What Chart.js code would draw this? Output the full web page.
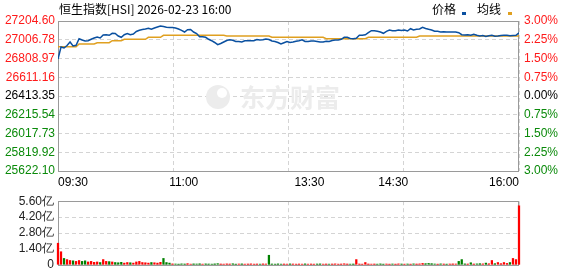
<!DOCTYPE html>
<html>
<head>
<meta charset="utf-8">
<script src="https://cdn.jsdelivr.net/npm/chart.js@4"></script>
<style>
html, body { margin: 0; padding: 0; background: #fff; }
#wrap { position: relative; width: 578px; height: 276px; }
#priceChart { position: absolute; left: 0; top: 0; }
#volChart { position: absolute; left: 0; top: 190px; }
</style>
</head>
<body>
<div id="wrap">
  <canvas id="priceChart" width="578" height="192"></canvas>
  <canvas id="volChart" width="578" height="86"></canvas>
</div>
<script>
// HSI intraday 2026-02-23, one sample every ~3px of the original plot
const prevClose = 26413.35;

const prices = [
    26803.7, 26930.3, 26919.7, 26946.1, 26983.0, 26940.8, 26948.2, 27017.9, 27004.1, 26993.6,
    26996.8, 27011.5, 27025.2, 27035.8, 27025.2, 27056.9, 27060.1, 27053.7, 27074.8, 27072.7,
    27046.3, 27032.6, 27060.1, 27072.7, 27060.1, 27067.4, 27093.8, 27106.5, 27114.9, 27120.2,
    27127.6, 27117.0, 27130.7, 27141.3, 27151.8, 27146.6, 27138.1, 27136.0, 27136.0, 27130.7,
    27120.2, 27106.5, 27088.5, 27112.8, 27114.9, 27088.5, 27072.7, 27039.0, 27039.0, 27032.6,
    27011.5, 26996.8, 26977.8, 26954.6, 26967.2, 26983.0, 26998.9, 27007.3, 27001.0, 26988.3,
    26988.3, 26983.0, 26996.8, 26996.8, 26996.8, 26996.8, 27009.4, 27004.1, 27007.3, 27014.7,
    27009.4, 26993.6, 26988.3, 26977.8, 26961.9, 26975.7, 26988.3, 26977.8, 26983.0, 26990.4,
    26996.8, 27006.3, 26988.3, 26988.3, 26993.6, 26993.6, 26988.3, 26983.0, 26983.0, 26990.4,
    26988.3, 26998.9, 27004.1, 27004.1, 27011.5, 27032.6, 27032.6, 27020.0, 27017.9, 27023.1,
    27053.7, 27053.7, 27059.0, 27081.2, 27102.3, 27102.3, 27095.9, 27088.5, 27074.8, 27095.9,
    27109.6, 27102.3, 27102.3, 27109.6, 27104.4, 27109.6, 27099.1, 27123.4, 27109.6, 27117.0,
    27120.2, 27138.1, 27125.5, 27117.0, 27109.6, 27095.9, 27095.9, 27088.5, 27090.7, 27088.5,
    27088.5, 27088.5, 27088.5, 27081.2, 27060.1, 27056.9, 27060.1, 27053.7, 27064.3, 27053.7,
    27046.3, 27051.6, 27041.1, 27048.5, 27053.7, 27043.2, 27046.3, 27051.6, 27053.7, 27053.7,
    27049.5, 27051.6, 27053.7, 27081.2
];

const avgPrices = [
    26933.5, 26933.5, 26933.5, 26933.5, 26933.5, 26933.5, 26933.5, 26961.9, 26961.9, 26961.9,
    26961.9, 26961.9, 26961.9, 26975.7, 26975.7, 26975.7, 26975.7, 26975.7, 26996.8, 26996.8,
    26996.8, 26996.8, 27011.5, 27011.5, 27011.5, 27011.5, 27011.5, 27011.5, 27011.5, 27011.5,
    27032.6, 27032.6, 27032.6, 27032.6, 27032.6, 27053.7, 27053.7, 27053.7, 27053.7, 27053.7,
    27053.7, 27053.7, 27053.7, 27053.7, 27053.7, 27053.7, 27053.7, 27053.7, 27053.7, 27053.7,
    27053.7, 27053.7, 27053.7, 27053.7, 27053.7, 27053.7, 27046.3, 27046.3, 27046.3, 27046.3,
    27046.3, 27046.3, 27046.3, 27046.3, 27046.3, 27046.3, 27046.3, 27046.3, 27046.3, 27046.3,
    27046.3, 27032.6, 27032.6, 27032.6, 27032.6, 27032.6, 27032.6, 27032.6, 27032.6, 27032.6,
    27032.6, 27032.6, 27032.6, 27032.6, 27032.6, 27032.6, 27032.6, 27032.6, 27032.6, 27017.9,
    27017.9, 27017.9, 27017.9, 27017.9, 27017.9, 27017.9, 27017.9, 27017.9, 27017.9, 27017.9,
    27017.9, 27017.9, 27017.9, 27032.6, 27032.6, 27032.6, 27032.6, 27032.6, 27032.6, 27032.6,
    27032.6, 27032.6, 27032.6, 27032.6, 27032.6, 27032.6, 27032.6, 27032.6, 27032.6, 27032.6,
    27046.3, 27046.3, 27046.3, 27046.3, 27046.3, 27046.3, 27046.3, 27046.3, 27046.3, 27046.3,
    27046.3, 27046.3, 27046.3, 27046.3, 27046.3, 27046.3, 27046.3, 27046.3, 27046.3, 27046.3,
    27046.3, 27046.3, 27046.3, 27046.3, 27046.3, 27046.3, 27046.3, 27046.3, 27046.3, 27046.3,
    27046.3, 27046.3, 27046.3, 27046.3
];

// volume in 亿
const volumes = [
    1.9, 1.15, 0.56, 0.46, 0.38, 0.35, 0.3, 0.38, 0.3, 0.35,
    0.25, 0.3, 0.22, 0.25, 0.2, 0.46, 0.3, 0.28, 0.25, 0.2,
    0.18, 0.22, 0.15, 0.2, 0.18, 0.15, 0.25, 0.3, 0.2, 0.18,
    0.15, 0.2, 0.18, 0.15, 0.22, 0.56, 0.2, 0.15, 0.08, 0.07,
    0.06, 0.08, 0.07, 0.1, 0.06, 0.08, 0.07, 0.09, 0.06, 0.08,
    0.07, 0.06, 0.08, 0.1, 0.07, 0.06, 0.08, 0.07, 0.09, 0.06,
    0.07, 0.08, 0.06, 0.07, 0.08, 0.06, 0.07, 0.06, 0.08, 0.07,
    0.84, 0.07, 0.06, 0.08, 0.06, 0.07, 0.06, 0.08, 0.07, 0.06,
    0.07, 0.06, 0.08, 0.06, 0.07, 0.06, 0.07, 0.08, 0.06, 0.07,
    0.06, 0.07, 0.08, 0.06, 0.07, 0.09, 0.07, 0.06, 0.07, 0.46,
    0.07, 0.06, 0.2, 0.07, 0.06, 0.07, 0.06, 0.08, 0.06, 0.07,
    0.06, 0.07, 0.06, 0.08, 0.07, 0.06, 0.07, 0.06, 0.08, 0.07,
    0.08, 0.12, 0.1, 0.12, 0.1, 0.07, 0.06, 0.08, 0.07, 0.06,
    0.07, 0.08, 0.07, 0.3, 0.46, 0.08, 0.07, 0.18, 0.07, 0.08,
    0.1, 0.08, 0.15, 0.09, 0.38, 0.1, 0.2, 0.1, 0.2, 0.12,
    0.2, 0.56, 0.46, 5.2
];

const priceTicks = [25622.10, 25819.92, 26017.73, 26215.54, 26413.35, 26611.16, 26808.97, 27006.78, 27204.60];
const pctLabels = ['3.00%', '2.25%', '1.50%', '0.75%', '0.00%', '0.75%', '1.50%', '2.25%', '3.00%'];
const volTicks = [0, 1.4, 2.8, 4.2, 5.6];
const timeLabels = ['09:30', '11:00', '13:30', '14:30', '16:00'];
const timeMinutes = [0, 90, 180, 240, 330];
const totalMinutes = 330;

const RED = '#ff1a1a';
const GREEN = '#0a8a0a';
const GRID = '#d4d4d4';
const FRAME = '#9a9a9a';
const lastIdx = prices.length - 1;
const quarterTicks = [0, 1, 2, 3, 4].map(k => ({ value: lastIdx * k / 4 }));

Chart.defaults.font.family = "'Liberation Sans', Arial, sans-serif";
Chart.defaults.font.size = 12;

function tickColor(v) {
    if (Math.abs(v - prevClose) < 0.01) return '#000';
    return v > prevClose ? RED : GREEN;
}

const framePlugin = {
    id: 'frame',
    beforeDatasetsDraw(chart) {
        const a = chart.chartArea;
        const ctx = chart.ctx;
        ctx.save();
        ctx.strokeStyle = FRAME;
        ctx.lineWidth = 1;
        ctx.strokeRect(Math.round(a.left) + 0.5, Math.round(a.top) + 0.5,
            Math.round(a.right - a.left) - 1, Math.round(a.bottom - a.top));
        ctx.restore();
    }
};

const watermark = {
    id: 'watermark',
    beforeDatasetsDraw(chart) {
        const ctx = chart.ctx;
        ctx.save();
        ctx.fillStyle = '#ececec';
        ctx.font = "bold 25px 'Noto Sans CJK SC'";
        ctx.textBaseline = 'middle';
        ctx.textAlign = 'left';
        ctx.fillText('东方财富', 240, 97);
        ctx.beginPath();
        ctx.arc(218, 97, 12, 0, Math.PI * 2);
        ctx.fill();
        ctx.fillStyle = '#fff';
        ctx.beginPath();
        ctx.arc(222, 93, 5, 0, Math.PI * 2);
        ctx.fill();
        ctx.restore();
    }
};

const headerPlugin = {
    id: 'header',
    afterDraw(chart) {
        const ctx = chart.ctx;
        const a = chart.chartArea;
        ctx.save();
        ctx.textBaseline = 'middle';
        ctx.fillStyle = '#000';
        ctx.font = "12px 'Noto Sans CJK SC'";
        ctx.textAlign = 'left';
        ctx.fillText('恒生指数[HSI] 2026-02-23 16:00', 59, 9);
        ctx.fillText('价格', 432, 9);
        ctx.fillText('均线', 477, 9);
        ctx.fillStyle = '#0a50a0';
        ctx.fillRect(462, 12, 4, 3);
        ctx.fillStyle = '#e0a020';
        ctx.fillRect(508, 12, 4, 3);
        // time axis labels
        ctx.fillStyle = '#000';
        ctx.font = "12px 'Liberation Sans', Arial";
        timeLabels.forEach((t, i) => {
            const x = a.left + (a.right - a.left) * timeMinutes[i] / totalMinutes;
            ctx.textAlign = i === 0 ? 'left' : (i === timeLabels.length - 1 ? 'right' : 'center');
            ctx.fillText(t, x, 183);
        });
        ctx.restore();
    }
};

new Chart(document.getElementById('priceChart'), {
    type: 'line',
    data: {
        datasets: [{
            data: prices.map((p, i) => ({ x: i, y: p })),
            borderColor: '#0a50a0',
            borderWidth: 1.5,
            pointRadius: 0,
            tension: 0
        }, {
            data: avgPrices.map((p, i) => ({ x: i, y: p })),
            borderColor: '#e0a020',
            borderWidth: 1.5,
            pointRadius: 0,
            tension: 0
        }]
    },
    options: {
        responsive: false,
        animation: false,
        events: [],
        layout: { padding: { top: 21, bottom: 21, left: 0, right: 0 } },
        plugins: { legend: { display: false }, tooltip: { enabled: false } },
        scales: {
            x: {
                type: 'linear',
                min: 0,
                max: lastIdx,
                afterBuildTicks: s => { s.ticks = quarterTicks.map(t => ({ ...t })); },
                afterFit: s => { s.height = 0; },
                ticks: { display: false },
                grid: { color: GRID, drawTicks: false },
                border: { display: false, dash: [4, 3] }
            },
            y: {
                position: 'left',
                min: priceTicks[0],
                max: priceTicks[priceTicks.length - 1],
                afterBuildTicks: s => { s.ticks = priceTicks.map(v => ({ value: v })); },
                afterFit: s => { s.width = 58; },
                ticks: {
                    padding: 3,
                    autoSkip: false,
                    callback: v => v.toFixed(2),
                    color: c => tickColor(c.tick.value)
                },
                grid: { color: GRID, drawTicks: false },
                border: { display: false, dash: [4, 3] }
            },
            y2: {
                position: 'right',
                min: priceTicks[0],
                max: priceTicks[priceTicks.length - 1],
                afterBuildTicks: s => { s.ticks = priceTicks.map(v => ({ value: v })); },
                afterFit: s => { s.width = 59; },
                ticks: {
                    padding: 5,
                    autoSkip: false,
                    callback: (v, i) => pctLabels[i],
                    color: c => tickColor(c.tick.value)
                },
                grid: { display: false, drawTicks: false },
                border: { display: false }
            }
        }
    },
    plugins: [watermark, framePlugin, headerPlugin]
});

const volColors = volumes.map((v, i) => {
    const prev = i === 0 ? prevClose : prices[i - 1];
    return prices[i] >= prev ? '#ff0000' : '#008000';
});

new Chart(document.getElementById('volChart'), {
    type: 'bar',
    data: {
        datasets: [{
            data: volumes.map((v, i) => ({ x: i, y: v })),
            backgroundColor: volColors,
            barThickness: 1.6,
            borderWidth: 0,
            clip: false
        }]
    },
    options: {
        responsive: false,
        animation: false,
        events: [],
        layout: { padding: { top: 7, bottom: 6, left: 0, right: 59 } },
        plugins: { legend: { display: false }, tooltip: { enabled: false } },
        scales: {
            x: {
                type: 'linear',
                min: 0,
                max: lastIdx,
                offset: false,
                afterBuildTicks: s => { s.ticks = quarterTicks.map(t => ({ ...t })); },
                afterFit: s => { s.height = 0; },
                ticks: { display: false },
                grid: { color: GRID, drawTicks: false, offset: false },
                border: { display: false, dash: [4, 3] }
            },
            y: {
                min: 0,
                max: 5.6,
                afterBuildTicks: s => { s.ticks = volTicks.map(v => ({ value: v })); },
                afterFit: s => { s.width = 58; },
                ticks: {
                    padding: 4,
                    autoSkip: false,
                    color: '#222',
                    callback: v => v === 0 ? '0' : v.toFixed(2) + '亿'
                },
                grid: { color: GRID, drawTicks: false },
                border: { display: false, dash: [4, 3] }
            }
        }
    },
    plugins: [framePlugin]
});
</script>
</body>
</html>
